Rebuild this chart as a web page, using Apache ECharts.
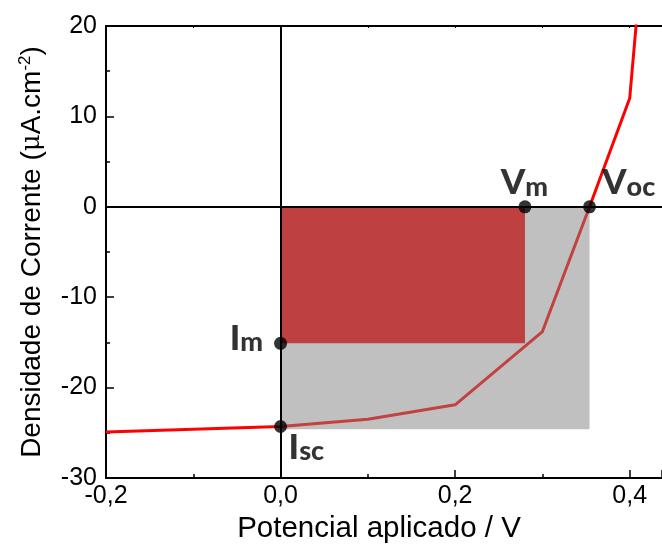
<!DOCTYPE html>
<html>
<head>
<meta charset="utf-8">
<script src="https://cdn.jsdelivr.net/npm/echarts@6/dist/echarts.min.js"></script>
<style>
  html, body { margin: 0; padding: 0; background: #ffffff; }
  #chart { width: 662px; height: 550px; }
</style>
</head>
<body>
<div id="chart"></div>
<script>
// J–V curve of the cell (V, µA·cm⁻²)
const voltage = [-0.2, -0.1, 0, 0.1, 0.2, 0.3, 0.354, 0.4, 0.42];
const current = [-24.9, -24.6, -24.3, -23.5, -21.9, -13.8, 0, 12.0, 34];

// characteristic points of the curve
const Vm = 0.28;
const Im = -15.1;
const Voc = 0.354;
const Isc = -24.3;
const iscBoxEdge = -24.6;   // lower edge of the Voc × Isc box

// axis ranges and ticks
const xRange = [-0.2, 0.437];
const xStep = 0.2;
const yRange = [-30, 20];
const yStep = 10;

const AXIS_FONT = '"Liberation Sans", Arial, sans-serif';
const MARK_FONT = 'Lato, "Open Sans", sans-serif';

const curve = voltage.map((v, i) => [v, current[i]]);
const innerCurve = curve.filter(p => p[0] >= 0 && p[0] <= Voc);

const markRich = {
  b: { fontFamily: MARK_FONT, fontWeight: 900, fontSize: 35, lineHeight: 35, color: '#000', verticalAlign: 'bottom' },
  s: { fontFamily: MARK_FONT, fontWeight: 900, fontSize: 27, lineHeight: 27, color: '#000', verticalAlign: 'bottom' }
};

function pointLabel(text, position, align) {
  return {
    show: true,
    formatter: text,
    position: position,
    align: align,
    verticalAlign: 'bottom',
    rich: markRich
  };
}

const chart = echarts.init(document.getElementById('chart'), null, { renderer: 'canvas' });

chart.setOption({
  animation: false,
  backgroundColor: '#ffffff',
  grid: { left: 106, top: 26, right: 0, bottom: 72, containLabel: false },
  xAxis: [
    {
      type: 'value',
      position: 'bottom',
      min: xRange[0],
      max: xRange[1],
      interval: xStep,
      name: 'Potencial aplicado / V',
      nameLocation: 'middle',
      nameGap: 34,
      nameTextStyle: { fontFamily: AXIS_FONT, fontSize: 29.5, color: '#000', padding: [0, 10, 0, 0] },
      axisLine: { show: true, onZero: false, lineStyle: { color: '#000', width: 2 } },
      axisTick: { show: true, inside: true, length: 8, lineStyle: { color: '#000', width: 1.5 } },
      minorTick: { show: true, splitNumber: 2, length: 4, lineStyle: { color: '#000', width: 1.5 } },
      axisLabel: {
        show: true,
        margin: 6,
        showMaxLabel: false,
        fontFamily: AXIS_FONT,
        fontSize: 25,
        color: '#000',
        formatter: v => v.toFixed(1).replace('.', ',')
      },
      splitLine: { show: false }
    },
    {
      type: 'value',
      position: 'top',
      min: xRange[0],
      max: xRange[1],
      interval: 0.1,
      axisLine: { show: true, onZero: false, lineStyle: { color: '#000', width: 2 } },
      axisTick: { show: true, inside: true, length: 2, lineStyle: { color: '#000', width: 1 } },
      axisLabel: { show: false },
      splitLine: { show: false }
    }
  ],
  yAxis: {
    type: 'value',
    min: yRange[0],
    max: yRange[1],
    interval: yStep,
    name: '{a|Densidade de Corrente (}{mu|μ}{a|A.cm}{sup|-2}{a|)}',
    nameLocation: 'middle',
    nameGap: 59,
    nameTextStyle: {
      fontFamily: AXIS_FONT,
      fontSize: 28,
      color: '#000',
      rich: {
        a: { fontFamily: AXIS_FONT, fontSize: 28, lineHeight: 30, color: '#000' },
        mu: { fontFamily: '"DejaVu Serif", serif', fontSize: 26, lineHeight: 30, color: '#000' },
        sup: { fontFamily: AXIS_FONT, fontSize: 17, lineHeight: 17, color: '#000', verticalAlign: 'top' }
      }
    },
    axisLine: { show: true, onZero: false, lineStyle: { color: '#000', width: 2 } },
    axisTick: { show: true, inside: true, length: 8, lineStyle: { color: '#000', width: 1.5 } },
    minorTick: { show: true, splitNumber: 2, length: 4, lineStyle: { color: '#000', width: 1.5 } },
    axisLabel: {
      show: true,
      margin: 9,
      fontFamily: AXIS_FONT,
      fontSize: 25,
      color: '#000',
      formatter: v => String(v)
    },
    splitLine: { show: false }
  },
  series: [
    {
      name: 'J-V',
      type: 'line',
      data: curve,
      z: 2,
      symbol: 'none',
      smooth: false,
      clip: true,
      lineStyle: { color: '#ff0000', width: 3 },
      silent: true
    },
    {
      name: 'Voc x Isc',
      type: 'line',
      data: [[0, iscBoxEdge], [Voc, iscBoxEdge]],
      z: 3,
      symbol: 'none',
      lineStyle: { width: 0 },
      areaStyle: { color: '#c0c0c0', opacity: 1, origin: 'auto' },
      silent: true
    },
    {
      name: 'Vm x Im',
      type: 'line',
      data: [[0, Im], [Vm, Im]],
      z: 3,
      symbol: 'none',
      lineStyle: { width: 0 },
      areaStyle: { color: '#bf4040', opacity: 1, origin: 'auto' },
      silent: true
    },
    {
      name: 'J-V (box)',
      type: 'line',
      data: innerCurve,
      z: 4,
      symbol: 'none',
      lineStyle: { color: '#c24141', width: 3 },
      silent: true,
      markLine: {
        silent: true,
        z: 5,
        symbol: ['none', 'none'],
        label: { show: false },
        lineStyle: { color: '#000', width: 2, type: 'solid' },
        data: [{ xAxis: 0 }, { yAxis: 0 }]
      }
    },
    {
      name: 'points',
      type: 'scatter',
      z: 10,
      symbol: 'circle',
      symbolSize: 13,
      itemStyle: { color: '#000' },
      silent: true,
      data: [
        { value: [Vm, 0], label: pointLabel('{b|V}{s|m}', [6, 0], 'center') },
        { value: [Voc, 0], label: pointLabel('{b|V}{s|oc}', [19, 0], 'left') },
        { value: [0, Im], label: pointLabel('{b|I}{s|m}', [-11, 19], 'right') },
        { value: [0, Isc], label: pointLabel('{b|I}{s|sc}', [14.5, 45], 'left') }
      ]
    }
  ]
});
</script>
</body>
</html>
